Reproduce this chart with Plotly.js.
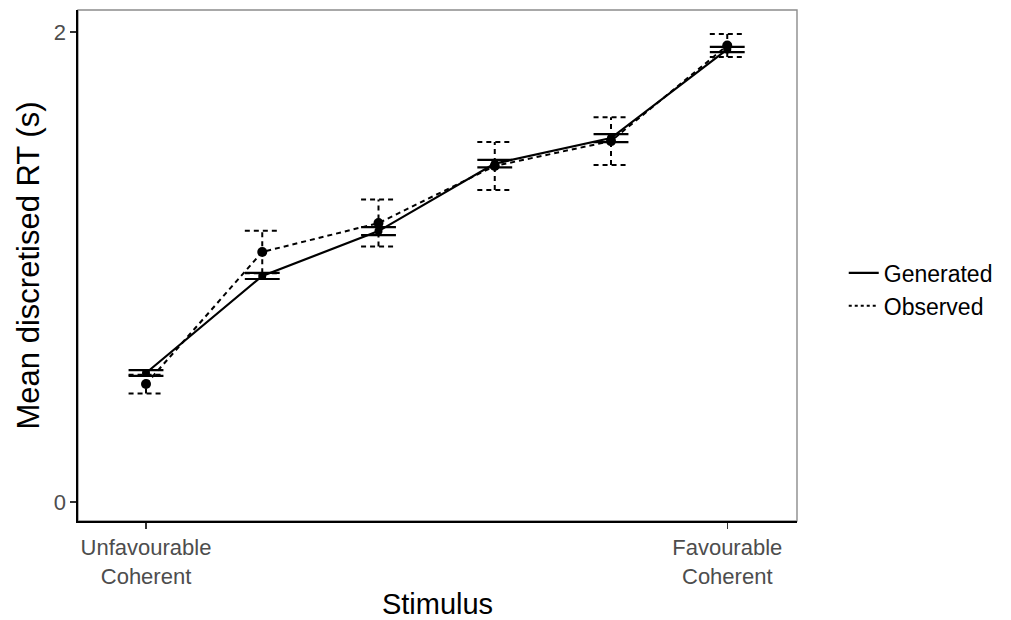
<!DOCTYPE html>
<html>
<head>
<meta charset="utf-8">
<script src="https://cdn.plot.ly/plotly-3.0.1.min.js"></script>
<style>html,body{margin:0;padding:0;background:#fff;}#chart{width:1011px;height:620px;}</style>
</head>
<body>
<div id="chart"></div>
<script>
// Stimulus positions (1..6), only ends labelled
const stimulus = [1, 2, 3, 4, 5, 6];
const tickPositions = [1, 6];
const tickLabels = ["Unfavourable<br>Coherent", "Favourable<br>Coherent"];

// Generated (model) means and error half-widths
const generatedMean = [0.549, 0.962, 1.153, 1.440, 1.549, 1.926];
const generatedErr  = [0.012, 0.013, 0.017, 0.016, 0.017, 0.011];

// Observed means and error half-widths
const observedMean = [0.502, 1.064, 1.187, 1.430, 1.536, 1.943];
const observedErr  = [0.040, 0.090, 0.100, 0.102, 0.102, 0.049];

const capHalf = 0.15;

function errorSegments(xs, ys, es) {
  const x = [], y = [];
  xs.forEach((xi, i) => {
    const lo = ys[i] - es[i], hi = ys[i] + es[i];
    x.push(xi, xi, null); y.push(lo, hi, null);
    x.push(xi - capHalf, xi + capHalf, null); y.push(lo, lo, null);
    x.push(xi - capHalf, xi + capHalf, null); y.push(hi, hi, null);
  });
  return {x, y};
}

const genErr = errorSegments(stimulus, generatedMean, generatedErr);
const obsErr = errorSegments(stimulus, observedMean, observedErr);

const traces = [
  {x: obsErr.x, y: obsErr.y, mode: 'lines', line: {color: '#000', width: 2, dash: '5px,4px'}, showlegend: false, hoverinfo: 'skip'},
  {x: genErr.x, y: genErr.y, mode: 'lines', line: {color: '#000', width: 2.2}, showlegend: false, hoverinfo: 'skip'},
  {x: stimulus, y: observedMean, mode: 'lines+markers', line: {color: '#000', width: 2, dash: '5px,4px'}, marker: {color: '#000', size: 10}, showlegend: false},
  {x: stimulus, y: generatedMean, mode: 'lines+markers', line: {color: '#000', width: 2.2}, marker: {color: '#000', size: 8}, showlegend: false},
  {x: [null], y: [null], mode: 'lines', name: 'Generated', line: {color: '#000', width: 2.2}},
  {x: [null], y: [null], mode: 'lines', name: 'Observed', line: {color: '#000', width: 2, dash: '3px,3px'}}
];

const layout = {
  width: 1011, height: 620,
  margin: {l: 78, r: 214, t: 10, b: 99},
  paper_bgcolor: '#fff', plot_bgcolor: '#fff',
  font: {family: 'Liberation Sans, Arial, sans-serif', color: '#000'},
  xaxis: {
    range: [0.415, 6.6], tickvals: tickPositions, ticktext: tickLabels,
    showgrid: false, zeroline: false, showline: true, linecolor: '#000', linewidth: 1.6,
    ticks: 'outside', ticklen: 6, tickcolor: '#333', tickwidth: 1.2,
    tickfont: {size: 22, color: '#4d4d4d'},
    title: {text: 'Stimulus', font: {size: 29, color: '#000'}, standoff: 8}
  },
  yaxis: {
    range: [-0.081, 2.094], tickvals: [0, 2], ticktext: ['0', '2'],
    showgrid: false, zeroline: false, showline: true, linecolor: '#000', linewidth: 1.6,
    ticks: 'outside', ticklen: 6, tickcolor: '#333', tickwidth: 1.2,
    tickfont: {size: 22, color: '#4d4d4d'},
    title: {text: 'Mean discretised RT (s)', font: {size: 31, color: '#000'}, standoff: 5}
  },
  legend: {x: 1.065, y: 0.453, xanchor: 'left', yanchor: 'middle', font: {size: 23, color: '#000'}, tracegroupgap: 0, bgcolor: 'rgba(0,0,0,0)'},
  shapes: [
    {type: 'rect', xref: 'paper', yref: 'paper', x0: 0, x1: 1, y0: 0, y1: 1, line: {color: '#8c8c8c', width: 1.4}, layer: 'below'}
  ],
  showlegend: true
};

Plotly.newPlot('chart', traces, layout, {displayModeBar: false, staticPlot: true});
</script>
</body>
</html>
